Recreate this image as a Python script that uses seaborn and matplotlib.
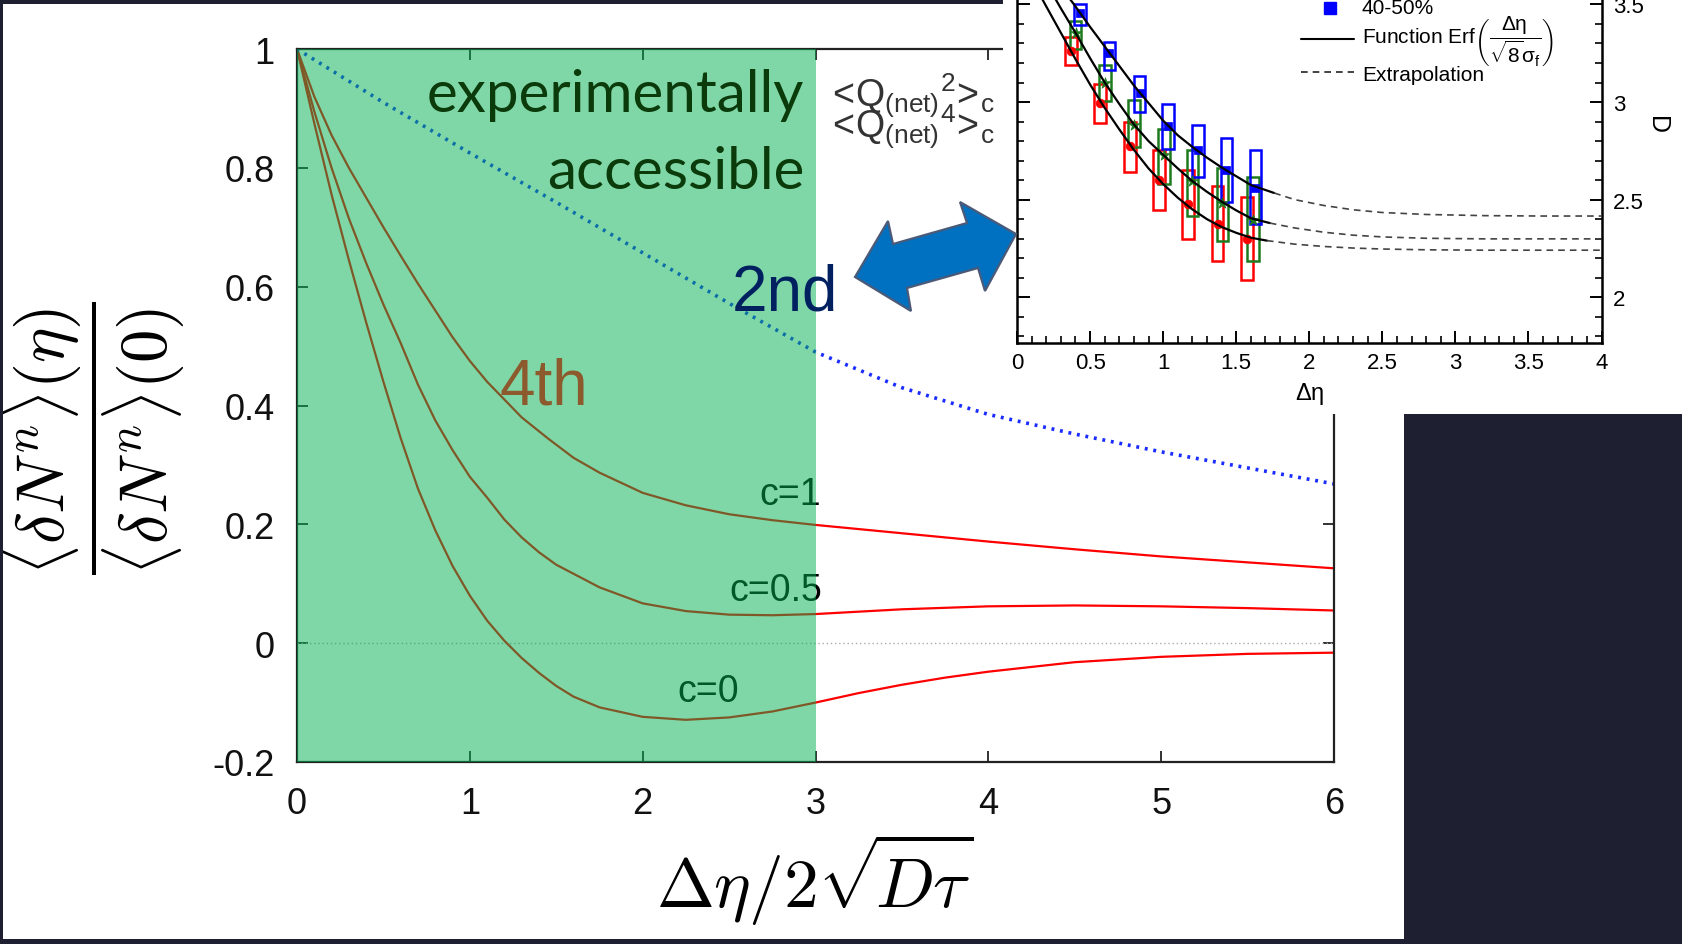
import numpy as np
import pandas as pd
import matplotlib
matplotlib.use("Agg")
import matplotlib.pyplot as plt
from matplotlib.patches import Rectangle, Polygon
from matplotlib.ticker import FixedLocator, MultipleLocator
import seaborn as sns

# ---------------- main panel data ----------------
x_ticks = [0, 1, 2, 3, 4, 5, 6]
x_tick_labels = ["0", "1", "2", "3", "4", "5", "6"]
y_ticks = [-0.2, 0, 0.2, 0.4, 0.6, 0.8, 1]
y_tick_labels = ["-0.2", "0", "0.2", "0.4", "0.6", "0.8", "1"]
accessible_max = 3.0

# second-order ratio (dotted)
second_x = [0, 0.5, 1.0, 1.5, 2.0, 2.5, 3.0, 3.5, 4.0, 4.5, 5.0, 5.5, 6.0]
second_y = [1.0, 0.91, 0.825, 0.742, 0.657, 0.572, 0.49, 0.43, 0.385, 0.352, 0.322, 0.295, 0.268]

# fourth-order ratio for c = 1, 0.5, 0
c1_x = [0, 0.1, 0.2, 0.3, 0.4, 0.5, 0.6, 0.7, 0.8, 0.9, 1.0, 1.1, 1.2, 1.3, 1.45, 1.6,
        1.75, 2.0, 2.25, 2.5, 2.75, 3.0, 3.5, 4.0, 4.5, 5.0, 5.5, 6.0]
c1_y = [1.0, 0.92, 0.855, 0.80, 0.75, 0.70, 0.652, 0.605, 0.56, 0.515, 0.475, 0.44, 0.41,
        0.38, 0.345, 0.312, 0.287, 0.253, 0.232, 0.217, 0.207, 0.199, 0.185, 0.171, 0.158,
        0.146, 0.136, 0.126]
c05_x = [0, 0.1, 0.2, 0.3, 0.4, 0.5, 0.6, 0.7, 0.8, 0.9, 1.0, 1.1, 1.2, 1.3, 1.4, 1.5,
         1.75, 2.0, 2.25, 2.5, 2.75, 3.0, 3.5, 4.0, 4.5, 5.0, 5.5, 6.0]
c05_y = [1.0, 0.895, 0.80, 0.715, 0.64, 0.57, 0.505, 0.435, 0.375, 0.325, 0.28, 0.245,
         0.208, 0.178, 0.153, 0.132, 0.094, 0.067, 0.054, 0.048, 0.047, 0.049, 0.057, 0.062,
         0.0635, 0.062, 0.059, 0.055]
c0_x = [0, 0.1, 0.2, 0.3, 0.4, 0.5, 0.6, 0.7, 0.8, 0.9, 1.0, 1.1, 1.2, 1.3, 1.4, 1.5, 1.6,
        1.75, 2.0, 2.25, 2.5, 2.75, 3.0, 3.25, 3.5, 3.75, 4.0, 4.5, 5.0, 5.5, 6.0]
c0_y = [1.0, 0.875, 0.755, 0.645, 0.54, 0.44, 0.345, 0.26, 0.19, 0.13, 0.08, 0.038, 0.004,
        -0.025, -0.05, -0.072, -0.09, -0.108, -0.124, -0.129, -0.125, -0.115, -0.10,
        -0.084, -0.07, -0.058, -0.048, -0.032, -0.023, -0.018, -0.016]

# ---------------- inset data (D vs delta eta) ----------------
inset_x_ticks = [0, 0.5, 1, 1.5, 2, 2.5, 3, 3.5, 4]
inset_x_labels = ["0", "0.5", "1", "1.5", "2", "2.5", "3", "3.5", "4"]
inset_y_ticks = [2, 2.5, 3, 3.5]
inset_y_labels = ["2", "2.5", "3", "3.5"]

red_eta = [0.371, 0.567, 0.772, 0.974, 1.170, 1.373, 1.572]
red_D = [3.259, 2.995, 2.773, 2.602, 2.480, 2.377, 2.299]
red_lo = [3.188, 2.892, 2.640, 2.449, 2.300, 2.184, 2.090]
red_hi = [3.333, 3.092, 2.898, 2.756, 2.650, 2.568, 2.514]

green_eta = [0.401, 0.603, 0.802, 1.005, 1.200, 1.406, 1.614]
green_D = [3.353, 3.097, 2.884, 2.730, 2.594, 2.483, 2.398]
green_lo = [3.271, 3.003, 2.770, 2.580, 2.415, 2.287, 2.184]
green_hi = [3.413, 3.191, 3.012, 2.863, 2.756, 2.662, 2.616]

blue_eta = [0.431, 0.633, 0.839, 1.035, 1.237, 1.433, 1.632]
blue_D = [3.456, 3.251, 3.046, 2.875, 2.753, 2.654, 2.560]
blue_lo = [3.396, 3.166, 2.949, 2.761, 2.614, 2.488, 2.377]
blue_hi = [3.503, 3.310, 3.131, 2.990, 2.884, 2.816, 2.753]

red_fit_x = [0.12, 0.2, 0.3, 0.4, 0.5, 0.6, 0.7, 0.8, 0.9, 1.0, 1.1, 1.2, 1.3, 1.4, 1.5, 1.6, 1.71]
red_fit_D = [3.60, 3.49, 3.355, 3.22, 3.09, 2.97, 2.86, 2.755, 2.66, 2.58, 2.51, 2.45, 2.40,
             2.36, 2.33, 2.305, 2.29]
red_ext_x = [1.71, 1.9, 2.1, 2.3, 2.5, 2.8, 3.2, 3.6, 4.0]
red_ext_D = [2.29, 2.272, 2.26, 2.252, 2.247, 2.243, 2.241, 2.241, 2.241]

green_fit_x = [0.2, 0.3, 0.4, 0.5, 0.6, 0.7, 0.8, 0.9, 1.0, 1.1, 1.2, 1.3, 1.4, 1.5, 1.6, 1.73]
green_fit_D = [3.61, 3.48, 3.355, 3.225, 3.10, 2.99, 2.885, 2.80, 2.73, 2.66, 2.595, 2.54,
               2.49, 2.445, 2.405, 2.38]
green_ext_x = [1.73, 1.9, 2.1, 2.3, 2.5, 2.8, 3.2, 3.6, 4.0]
green_ext_D = [2.38, 2.355, 2.333, 2.318, 2.309, 2.302, 2.299, 2.299, 2.299]

blue_fit_x = [0.3, 0.4, 0.5, 0.6, 0.7, 0.8, 0.9, 1.0, 1.1, 1.2, 1.3, 1.4, 1.5, 1.6, 1.76]
blue_fit_D = [3.59, 3.49, 3.385, 3.285, 3.185, 3.085, 2.995, 2.905, 2.83, 2.77, 2.715, 2.665,
              2.62, 2.575, 2.534]
blue_ext_x = [1.76, 1.9, 2.1, 2.3, 2.5, 2.8, 3.2, 3.6, 4.0]
blue_ext_D = [2.534, 2.50, 2.47, 2.448, 2.434, 2.424, 2.418, 2.416, 2.416]

# ---------------- style ----------------
sns.set_theme(style="ticks")
plt.rcParams["font.family"] = ["Liberation Sans", "DejaVu Sans"]
plt.rcParams["mathtext.fontset"] = "cm"
plt.rcParams["mathtext.rm"] = "Liberation Sans"
plt.rcParams["mathtext.it"] = "Liberation Sans:italic"
plt.rcParams["mathtext.bf"] = "Liberation Sans:bold"
plt.rcParams["mathtext.sf"] = "Liberation Sans"

W, H = 1682, 945
NAVY_BG = "#1e1f30"
PPT_GREEN = "#00B050"


def fx(px):
    return px / W


def fy(py):
    return 1 - py / H


fig = plt.figure(figsize=(W / 100, H / 100), dpi=100, facecolor="white")

# ---------------- main axes ----------------
ax = fig.add_axes([fx(297), fy(763), (1334 - 297) / W, (763 - 50) / H])
ax.set_facecolor("white")
ax.set_xlim(0, 6)
ax.set_ylim(-0.2, 1.0)

ax.axhline(0, color="#aaaaaa", lw=1.0, ls=(0, (1, 2)), zorder=1)

curves = pd.concat([
    pd.DataFrame({"x": c1_x, "y": c1_y, "c": "c=1"}),
    pd.DataFrame({"x": c05_x, "y": c05_y, "c": "c=0.5"}),
    pd.DataFrame({"x": c0_x, "y": c0_y, "c": "c=0"}),
])
sns.lineplot(data=curves, x="x", y="y", units="c", estimator=None, sort=False,
             color="#ff0000", lw=1.6, ax=ax, zorder=2, legend=False)
sns.lineplot(x=second_x, y=second_y, estimator=None, sort=False, color="#1a2cff",
             lw=2.6, linestyle=(0, (0.8, 1.6)), ax=ax, zorder=2)

ax.set_xlabel("")
ax.set_ylabel("")

# curve labels (drawn beneath the shaded band)
lab_kw = dict(fontsize=27, color="black", zorder=3)
ax.text(3.03, 0.251, "c=1", ha="right", va="center", **lab_kw)
ax.text(3.04, 0.090, "c=0.5", ha="right", va="center", **lab_kw)
ax.text(2.56, -0.081, "c=0", ha="right", va="center", **lab_kw)

# shaded, experimentally accessible window
ax.axvspan(0, accessible_max, color=PPT_GREEN, alpha=0.5, lw=0, zorder=5)

ax.text(2.934, 0.896, "experimentally", ha="right", va="baseline", fontsize=42,
        family=["Lato", "DejaVu Sans"], color="#0b3a0b", zorder=6)
ax.text(2.934, 0.766, "accessible", ha="right", va="baseline", fontsize=42,
        family=["Lato", "DejaVu Sans"], color="#0b3a0b", zorder=6)
ax.text(1.427, 0.403, "4th", ha="center", va="baseline", fontsize=46,
        color="#8c5a2d", zorder=6)
ax.text(2.826, 0.562, "2nd", ha="center", va="baseline", fontsize=46,
        color="#002060", zorder=6)

q_kw = dict(fontsize=27, color="#333333", math_fontfamily="custom", zorder=6,
            ha="left", va="baseline")
ax.text(3.06, 0.905,
        r"$\mathrm{<}\!{\mathrm{Q}_{\mathrm{(net)}}}^{\mathrm{2}}\!\mathrm{>}\!{}_{\mathrm{c}}$",
        **q_kw)
ax.text(3.06, 0.852,
        r"$\mathrm{<}\!{\mathrm{Q}_{\mathrm{(net)}}}^{\mathrm{4}}\!\mathrm{>}\!{}_{\mathrm{c}}$",
        **q_kw)

ax.xaxis.set_major_locator(FixedLocator(x_ticks))
ax.set_xticklabels(x_tick_labels)
ax.yaxis.set_major_locator(FixedLocator(y_ticks))
ax.set_yticklabels(y_tick_labels)
ax.tick_params(axis="both", which="major", direction="in", length=8, width=1.3,
               colors="#222222", labelcolor="#111111", labelsize=26,
               top=True, right=True)
ax.tick_params(axis="x", pad=17)
ax.tick_params(axis="y", pad=16)
for sp in ax.spines.values():
    sp.set_visible(True)
    sp.set_color("#222222")
    sp.set_linewidth(1.6)

ax.text(-0.197, 0.455, r"$\dfrac{\langle \delta N^{n}\rangle(\eta)}{\langle \delta N^{n}\rangle(0)}$",
        transform=ax.transAxes, rotation=90, ha="center", va="center", fontsize=48,
        color="black")
ax.text(0.4995, -0.164, r"$\Delta\eta/2\sqrt{\!D\tau}$", transform=ax.transAxes,
        ha="center", va="center", fontsize=50, color="black")

# ---------------- inset panel ----------------
fig.add_artist(Rectangle((fx(1003), fy(415)), (W - 1003) / W, 415 / H,
                         transform=fig.transFigure, facecolor="white", edgecolor="none",
                         zorder=1))

ylo, yhi = 1.764, 3.95
px_per_D = 195.2
ax_in = fig.add_axes([fx(1017), fy(344.3), (1601.5 - 1017) / W,
                      (yhi - ylo) * px_per_D / H])
ax_in.set_zorder(2)
ax_in.set_facecolor("white")
ax_in.set_xlim(0, 4)
ax_in.set_ylim(ylo, yhi)

groups = [
    (red_eta, red_D, red_lo, red_hi, "#ff0000", "o", 40),
    (green_eta, green_D, green_lo, green_hi, "#1e7a1e", "*", 70),
    (blue_eta, blue_D, blue_lo, blue_hi, "#0000ff", "s", 40),
]
for eta, d, lo, hi, col, mk, sz in groups:
    ax_in.bar(eta, np.array(hi) - np.array(lo), bottom=lo, width=0.08, fill=False,
              edgecolor=col, linewidth=1.8, zorder=3)
    sns.scatterplot(x=eta, y=d, marker=mk, s=sz, color=col, edgecolor=col,
                    linewidth=0.5, ax=ax_in, zorder=4, legend=False)

for fx_, fd_, ex_, ed_ in [(red_fit_x, red_fit_D, red_ext_x, red_ext_D),
                           (green_fit_x, green_fit_D, green_ext_x, green_ext_D),
                           (blue_fit_x, blue_fit_D, blue_ext_x, blue_ext_D)]:
    sns.lineplot(x=fx_, y=fd_, estimator=None, sort=False, color="black", lw=1.6,
                 ax=ax_in, zorder=5)
    sns.lineplot(x=ex_, y=ed_, estimator=None, sort=False, color="#444444", lw=1.2,
                 linestyle=(0, (4, 3)), ax=ax_in, zorder=5)

ax_in.set_xlabel("")
ax_in.set_ylabel("")

# legend rows
ax_in.plot([2.142], [3.484], marker="s", color="#0000ff", ms=8, ls="none")
ax_in.text(2.36, 3.455, "40-50%", fontsize=15, va="baseline", ha="left", color="black")
ax_in.plot([1.945, 2.305], [3.324, 3.324], color="black", lw=1.5)
ax_in.text(2.36, 3.300,
           r"Function Erf$\left(\dfrac{\mathrm{\Delta\eta}}{\sqrt{\mathrm{8}}\mathrm{\sigma_{f}}}\right)$",
           fontsize=15, va="baseline", ha="left", color="black", math_fontfamily="custom")
ax_in.plot([1.945, 2.305], [3.154, 3.154], color="#222222", lw=1.2, ls=(0, (4, 3)))
ax_in.text(2.36, 3.115, "Extrapolation", fontsize=15, va="baseline", ha="left",
           color="black")

ax_in.xaxis.set_major_locator(FixedLocator(inset_x_ticks))
ax_in.set_xticklabels(inset_x_labels)
ax_in.xaxis.set_minor_locator(MultipleLocator(0.1))
ax_in.yaxis.set_major_locator(FixedLocator(inset_y_ticks))
ax_in.set_yticklabels(inset_y_labels)
ax_in.yaxis.set_minor_locator(MultipleLocator(0.1))
ax_in.tick_params(axis="both", which="both", direction="in", top=True, right=True,
                  left=True, bottom=True, labelleft=False, labelright=True,
                  colors="black", labelsize=16)
ax_in.tick_params(which="major", length=9, width=1.4)
ax_in.tick_params(which="minor", length=5, width=1.2)
ax_in.tick_params(axis="x", pad=6)
ax_in.tick_params(axis="y", pad=8)
for sp in ax_in.spines.values():
    sp.set_color("black")
    sp.set_linewidth(1.8)
ax_in.text(2.0, 1.764 - 50 / px_per_D, r"$\mathrm{\Delta\eta}$", math_fontfamily="custom",
           ha="center", va="center", fontsize=17, color="black")
ax_in.text(4.38, 2.885, "D", rotation=-90, ha="center", va="center", fontsize=18,
           color="black", clip_on=False)

# ---------------- double arrow linking the panels ----------------
arrow_px = [(855, 278), (888, 222), (893, 245), (967, 224), (960, 203), (1016, 235),
            (985, 292), (978, 269), (907, 289), (911, 312)]
fig.add_artist(Polygon([(fx(a), fy(b)) for a, b in arrow_px], closed=True,
                       transform=fig.transFigure, facecolor="#0070C0",
                       edgecolor="#4a5a78", linewidth=1.6, zorder=3))

# ---------------- slide frame ----------------
for (x0, y0, x1, y1) in [(0, 0, 1003, 5), (0, 0, 3, H), (0, 940, W, H), (1404, 415, W, H)]:
    fig.add_artist(Rectangle((fx(x0), fy(y1)), (x1 - x0) / W, (y1 - y0) / H,
                             transform=fig.transFigure, facecolor=NAVY_BG,
                             edgecolor="none", zorder=4))

fig.savefig("out.png", dpi=100, facecolor="white")
